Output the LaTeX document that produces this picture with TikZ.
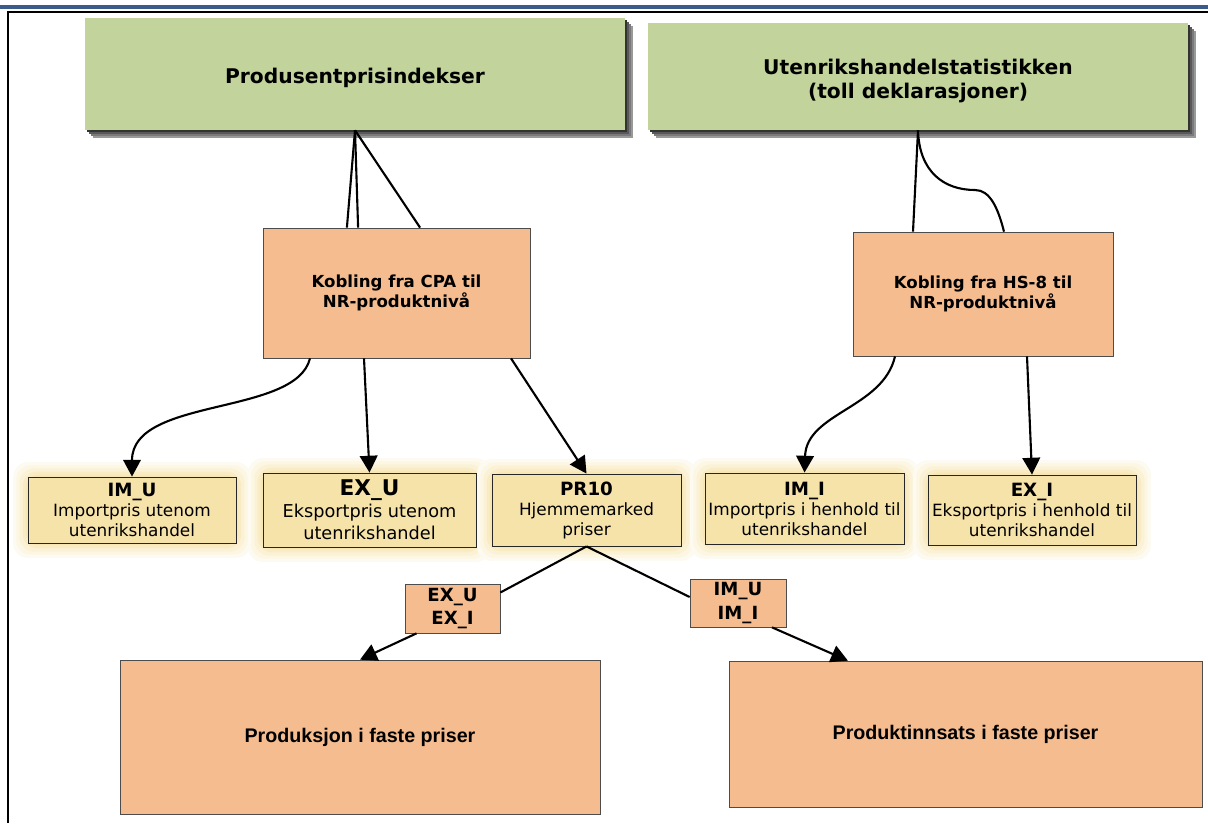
\documentclass[tikz,border=0pt]{standalone}
\usepackage{fontspec}
\setmainfont{DejaVu Sans}
\newfontfamily\arialfont{Liberation Sans}
\usetikzlibrary{arrows.meta,backgrounds}
\definecolor{kildegroenn}{RGB}{194,211,155}
\definecolor{koblingoransje}{RGB}{244,188,143}
\definecolor{prisgul}{RGB}{246,227,170}
\definecolor{glodgul}{RGB}{247,230,176}
\definecolor{topplinje}{RGB}{62,90,140}
\newcommand{\kildetekst}[1]{\begin{tabular}{@{}c@{}}\rule{0pt}{0.67cm}#1\end{tabular}}

\begin{document}
\begin{tikzpicture}[x=1cm,y=-1cm]
    \tikzstyle{kilde} = [fill=kildegroenn, inner sep=0pt, font=\fontsize{14.4}{17}\selectfont\bfseries]
    \tikzstyle{kobling} = [draw=black!70, line width=0.5pt, fill=koblingoransje, inner sep=0pt, align=center, font=\fontsize{11.8}{14.2}\selectfont\bfseries]
    \tikzstyle{pris} = [draw=black!85, line width=0.6pt, fill=prisgul, inner sep=0pt, align=center, font=\fontsize{12}{14.2}\selectfont]
    \tikzstyle{merke} = [kobling, font=\fontsize{12.9}{16.5}\selectfont\bfseries]
    \tikzstyle{resultat} = [kobling, font=\arialfont\fontsize{14}{17}\selectfont\bfseries]
    \tikzstyle{linje} = [line width=1.5pt]
    \tikzstyle{pil} = [linje, -{Triangle[length=0.42cm,width=0.44cm]}]

    \useasboundingbox (0,0) rectangle (30.2,20.575);
    % ramme
    \draw[topplinje, line width=2.2pt] (0,0.175) -- (30.2,0.175);
    \draw[line width=1.5pt] (30.2,0.3) -- (0.2,0.3) -- (0.2,20.575);

    % kilder
    \node[kilde, minimum width=13.5cm, minimum height=2.8cm] (ppi) at (8.875,1.85) {\kildetekst{Produsentprisindekser}};
    \node[kilde, minimum width=13.5cm, minimum height=2.675cm] (uhs) at (22.95,1.9125) {\kildetekst{Utenrikshandelstatistikken\\(toll deklarasjoner)}};

    % koblinger
    \node[kobling, minimum width=6.675cm, minimum height=3.25cm] (cpa) at (9.9125,7.325) {Kobling fra CPA til\\NR-produktnivå};
    \node[kobling, minimum width=6.5cm, minimum height=3.1cm] (hs) at (24.575,7.35) {Kobling fra HS-8 til\\NR-produktnivå};

    % prisindekser
    \node[pris, minimum width=5.2cm, minimum height=1.65cm] (imu) at (3.3,12.75) {{\fontsize{13}{15}\selectfont\bfseries IM\_U}\\Importpris utenom\\utenrikshandel};
    \node[pris, minimum width=5.325cm, minimum height=1.85cm, font=\fontsize{12.6}{15.5}\selectfont] (exu) at (9.2375,12.75) {{\fontsize{15.4}{18}\selectfont\bfseries EX\_U}\\Eksportpris utenom\\utenrikshandel};
    \node[pris, minimum width=4.725cm, minimum height=1.8cm] (pr) at (14.6625,12.75) {{\fontsize{13}{15}\selectfont\bfseries PR10}\\Hjemmemarked\\priser};
    \node[pris, minimum width=4.975cm, minimum height=1.775cm] (imi) at (20.1125,12.7125) {{\fontsize{13}{15}\selectfont\bfseries IM\_I}\\Importpris i henhold til\\utenrikshandel};
    \node[pris, minimum width=5.2cm, minimum height=1.75cm] (exi) at (25.8,12.75) {{\fontsize{13}{15}\selectfont\bfseries EX\_I}\\Eksportpris i henhold til\\utenrikshandel};

    % fordeling
    \node[merke, minimum width=2.375cm, minimum height=1.225cm] (exs) at (11.3125,15.2125) {EX\_U\\EX\_I};
    \node[merke, minimum width=2.4cm, minimum height=1.2cm] (ims) at (18.45,15.075) {IM\_U\\IM\_I};
    \node[resultat, minimum width=12cm, minimum height=3.85cm] (prod) at (9,18.425) {Produksjon i faste priser};
    \node[resultat, minimum width=11.825cm, minimum height=3.65cm] (innsats) at (24.1375,18.35) {Produktinnsats i faste priser};

    % skygge og glød
    \begin{scope}[on background layer]
      \foreach \boks in {imu,exu,pr,imi,exi}
        \foreach \g/\t in {0.36/18,0.28/35,0.2/55,0.12/75,0.05/95}
          \fill[glodgul!\t, rounded corners=0.35cm] ([xshift=-\g cm,yshift=\g cm]\boks.north west) rectangle ([xshift=\g cm,yshift=-\g cm]\boks.south east);
      \foreach \kilde in {ppi,uhs}
        \foreach \s/\t in {0.2/40,0.15/52,0.1/65,0.05/80}
          \fill[black!\t] ([xshift=\s cm,yshift=-\s cm]\kilde.north west) rectangle ([xshift=\s cm,yshift=-\s cm]\kilde.south east);
    \end{scope}

    % forbindelser
    \foreach \dx in {-1.24,-0.96,0.59}
      \draw[linje] (ppi.south) -- ([xshift=\dx cm]cpa.north);
    \draw[linje] (uhs.south) -- ([xshift=-1.75cm]hs.north);
    \draw[linje] (uhs.south) .. controls (22.98,4.3) and (23.6,4.75) .. (24.375,4.75)
      .. controls (24.75,4.75) and (24.95,5.2) .. ([xshift=0.525cm]hs.north);

    \draw[pil] ([xshift=-2.1625cm]cpa.south) .. controls +(-0.35,1.45) and +(0,-2.0) .. (imu.north);
    \draw[pil] ([xshift=-0.8125cm]cpa.south) -- (exu.north);
    \draw[pil] ([xshift=2.8625cm]cpa.south) -- (pr.north);
    \draw[pil] ([xshift=-2.2cm]hs.south) .. controls +(-0.3,1.3) and +(0.05,-1.5) .. (imi.north);
    \draw[pil] ([xshift=1.1cm]hs.south) -- (exi.north);

    \draw[linje] (pr.south) -- ([yshift=0.4cm]exs.east);
    \draw[pil] ([xshift=-0.9cm]exs.south) -- (prod.north);
    \draw[linje] (pr.south) -- ([yshift=0.15cm]ims.west);
    \draw[pil] ([xshift=0.85cm]ims.south) -- ([xshift=-2.94cm]innsats.north);
\end{tikzpicture}
\end{document}
